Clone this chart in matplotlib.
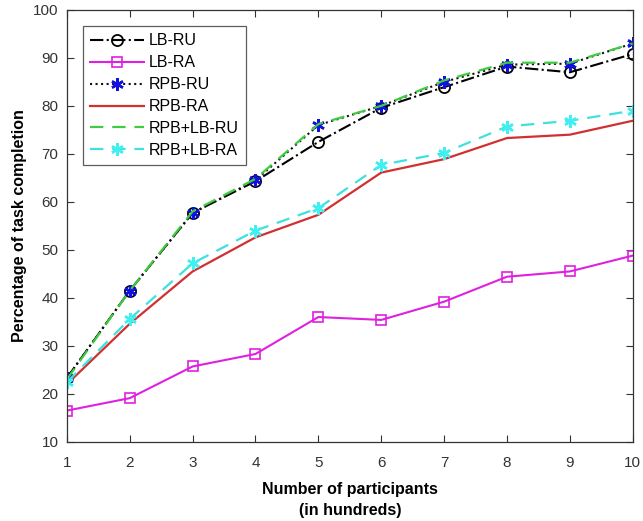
import matplotlib
matplotlib.use("Agg")
import matplotlib.pyplot as plt

participants = [1, 2, 3, 4, 5, 6, 7, 8, 9, 10]
lb_ru = [23.3, 41.5, 57.7, 64.3, 72.5, 79.6, 83.9, 88.2, 87.0, 90.8]
lb_ra = [16.5, 19.1, 25.7, 28.3, 36.0, 35.4, 39.2, 44.4, 45.5, 48.8]
rpb_ru = [23.3, 41.5, 57.7, 64.5, 76.0, 80.0, 85.0, 88.6, 88.8, 93.0]
rpb_ra = [22.0, 34.6, 45.5, 52.6, 57.3, 66.1, 68.9, 73.3, 74.0, 76.9]
rpb_lb_ru = [23.0, 41.5, 58.0, 64.8, 76.2, 80.0, 85.3, 89.0, 89.0, 93.0]
rpb_lb_ra = [22.4, 35.6, 47.2, 54.0, 58.7, 67.7, 70.2, 75.7, 76.9, 79.0]
xticks = [1, 2, 3, 4, 5, 6, 7, 8, 9, 10]
yticks = [10, 20, 30, 40, 50, 60, 70, 80, 90, 100]

plt.rcParams['font.family'] = ['Liberation Sans', 'DejaVu Sans']

fig = plt.figure(figsize=(6.43, 5.21), dpi=100)
ax = fig.add_axes([0.104, 0.152, 0.880, 0.829])

asterisk = (6, 2, 0)
ax.plot(participants, lb_ru, color='black', linestyle='-.', linewidth=1.5,
        marker='o', markersize=8, markerfacecolor='none', markeredgecolor='black',
        markeredgewidth=1.3, label='LB-RU')
ax.plot(participants, lb_ra, color='#e020e0', linestyle='-', linewidth=1.5,
        marker='s', markersize=7, markerfacecolor='none', markeredgecolor='#e020e0',
        markeredgewidth=1.2, label='LB-RA')
ax.plot(participants, rpb_ru, color='#111111', linestyle=':', linewidth=1.5,
        marker=asterisk, markersize=9, markeredgecolor='#1010e0',
        markeredgewidth=1.8, label='RPB-RU')
ax.plot(participants, rpb_ra, color='#d03030', linestyle='-', linewidth=1.6,
        label='RPB-RA')
ax.plot(participants, rpb_lb_ru, color='#40cc40', linestyle=(0, (6, 4)), linewidth=1.6,
        label='RPB+LB-RU')
ax.plot(participants, rpb_lb_ra, color='#40e0e0', linestyle=(0, (6, 4)), linewidth=1.6,
        marker=asterisk, markersize=9, markeredgecolor='#40f0f0',
        markeredgewidth=1.8, label='RPB+LB-RA')

ax.set_xlim(1, 10)
ax.set_ylim(10, 100)
ax.set_xticks(xticks)
ax.set_yticks(yticks)
ax.tick_params(direction='in', top=True, right=True, labelsize=11, length=5,
               width=0.8, color='#333333', labelcolor='#333333')
ax.tick_params(axis='x', pad=10)
ax.tick_params(axis='y', pad=6)
for s in ax.spines.values():
    s.set_color('#333333')
    s.set_linewidth(0.9)

ax.set_xlabel('Number of participants\n(in hundreds)', fontsize=11.5,
              fontweight='bold', linespacing=1.45, labelpad=9)
ax.set_ylabel('Percentage of task completion', fontsize=11.5, fontweight='bold',
              labelpad=4)

leg = ax.legend(loc='upper left', bbox_to_anchor=(0.028, 0.962), fontsize=11.5,
                handlelength=3.4, frameon=True, fancybox=False, edgecolor='#333333',
                borderpad=0.45, labelspacing=0.43, handletextpad=0.3,
                borderaxespad=0.0)
leg.get_frame().set_linewidth(0.9)

fig.savefig('out.png', dpi=100)
